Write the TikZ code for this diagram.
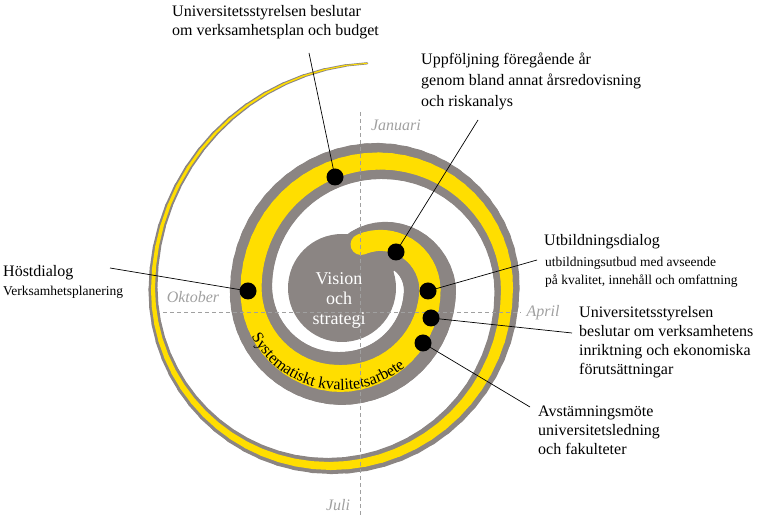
\documentclass[tikz,border=0pt]{standalone}
\usepackage{fontspec}
\setmainfont{Liberation Serif}
\usetikzlibrary{decorations.text}
\definecolor{bandgray}{RGB}{139,133,131}
\definecolor{bandyellow}{RGB}{255,222,0}
\definecolor{monthgray}{RGB}{160,160,160}
% one turn piece of the spiral band: colour, centre, r1, r2, a1, a2, w1, w2
\newcommand\spiralpiece[8]{%
  \foreach \i in {1,...,16}{%
    \pgfmathsetmacro\aa{#5+(#6-#5)*(\i-1)/16}
    \pgfmathsetmacro\ab{#5+(#6-#5)*\i/16}
    \pgfmathsetmacro\ra{#3+(#4-#3)*(\i-1)/16}
    \pgfmathsetmacro\rb{#3+(#4-#3)*\i/16}
    \pgfmathsetmacro\ww{#7+(#8-#7)*(\i-0.5)/16}
    \draw[#1,line width=\ww pt,line cap=round,shift={(#2)}] (\aa:\ra) -- (\ab:\rb);
  }}
\tikzset{
  dot/.style={circle,fill=black,minimum size=17pt,inner sep=0pt},
  lab/.style={anchor=north west,align=left,inner sep=0pt,font=\fontsize{16}{19}\selectfont},
  sublab/.style={anchor=north west,align=left,inner sep=0pt,font=\fontsize{13.5}{18}\selectfont},
  month/.style={text=monthgray,inner sep=0pt,font=\itshape\fontsize{16}{16}\selectfont},
  axis/.style={monthgray,line width=0.8pt,dash pattern=on 4pt off 3pt},
  leader/.style={black,line width=0.7pt}
}
\begin{document}
\begin{tikzpicture}[x=1pt,y=1pt]
    \useasboundingbox (0,0) rectangle (781,521);

    \coordinate (A) at (379,232);
    \coordinate (B) at (340.5,232);
    \coordinate (C) at (330,232);
    \coordinate (K) at (342,233);

    \fill[bandgray] (K) circle[radius=54];
    \fill[bandgray] (377,259) circle[radius=19];
    \spiralpiece{bandgray}{A}{43}{51}{120}{0}{40}{52}
    \spiralpiece{bandgray}{B}{89.5}{89.5}{0}{-90}{52}{53}
    \spiralpiece{bandgray}{B}{89.5}{89.5}{-90}{-180}{53}{42}
    \spiralpiece{bandgray}{A}{128}{128}{180}{90}{42}{36}
    \spiralpiece{bandgray}{A}{128}{128}{90}{0}{36}{25}
    \spiralpiece{bandgray}{C}{177}{177}{0}{-90}{25}{16}
    \spiralpiece{bandgray}{C}{177}{177}{-90}{-180}{16}{9}
    \spiralpiece{bandgray}{A}{226}{226}{180}{93}{9}{2}

    \spiralpiece{bandyellow}{A}{48}{51}{112}{0}{21}{21}
    \spiralpiece{bandyellow}{B}{89.5}{89.5}{0}{-90}{21}{27}
    \spiralpiece{bandyellow}{B}{89.5}{89.5}{-90}{-180}{27}{21}
    \spiralpiece{bandyellow}{A}{128}{128}{180}{90}{21}{17}
    \spiralpiece{bandyellow}{A}{128}{128}{90}{0}{17}{12}
    \spiralpiece{bandyellow}{C}{177}{177}{0}{-90}{12}{8}
    \spiralpiece{bandyellow}{C}{177}{177}{-90}{-180}{8}{4}
    \spiralpiece{bandyellow}{A}{226}{226}{180}{93}{4}{0.8}

    {\fontsize{16}{16}\selectfont
    \path[shift={(B)},decorate,decoration={text along path,text align=center,
      text={Systematiskt kvalitetsarbete}}]
      (200:101) arc[start angle=200,end angle=318,radius=101];}

    \coordinate (vtop) at (360,409);
    \coordinate (vbot) at (360,5);
    \coordinate (hleft) at (163,209);
    \coordinate (hright) at (521,209);
    \draw[axis] (vtop) -- (vbot);
    \draw[axis] (hleft) -- (hright);
    \node[month] (jan) at (396,396) {Januari};
    \node[month] (okt) at (193,224) {Oktober};
    \node[month] (apr) at (543,208) {April};
    \node[month] (jul) at (338,16) {Juli};

    \node[text=white,align=center,inner sep=0pt,font=\fontsize{18}{20}\selectfont] (core) at (339,221) {Vision\\och\\strategi};

    \node[dot] (d1) at (335,344) {};
    \node[dot] (d2) at (396,269) {};
    \node[dot] (d3) at (428,230) {};
    \node[dot] (d4) at (431,203) {};
    \node[dot] (d5) at (423,178) {};
    \node[dot] (d6) at (248,230) {};

    \coordinate (e1) at (309,468);
    \coordinate (e2) at (478,401);
    \coordinate (e3) at (537,261);
    \coordinate (e4) at (572,188);
    \coordinate (e5) at (530,114);
    \coordinate (e6) at (110,253);
    \draw[leader] (e1) -- (d1.center);
    \draw[leader] (e2) -- (d2.center);
    \draw[leader] (e3) -- (d3.center);
    \draw[leader] (e4) -- (d4.center);
    \draw[leader] (e5) -- (d5.center);
    \draw[leader] (e6) -- (d6.center);

    \node[lab] (beslut) at (172,516) {Universitetsstyrelsen beslutar\\om verksamhetsplan och budget};
    \node[lab,font=\fontsize{16}{21}\selectfont] (uppf) at (421,468) {Uppföljning föregående år\\genom bland annat årsredovisning\\och riskanalys};
    \node[lab] (utb) at (544,287) {Utbildningsdialog};
    \node[sublab] (utbsub) at (545,264) {utbildningsutbud med avseende\\på kvalitet, innehåll och omfattning};
    \node[lab] (inrikt) at (579,215) {Universitetsstyrelsen\\beslutar om verksamhetens\\inriktning och ekonomiska\\förutsättningar};
    \node[lab] (avst) at (538,115) {Avstämningsmöte\\universitetsledning\\och fakulteter};
    \node[lab] (host) at (3,256) {Höstdialog};
    \node[sublab] (hostsub) at (3,235) {Verksamhetsplanering};
\end{tikzpicture}
\end{document}
